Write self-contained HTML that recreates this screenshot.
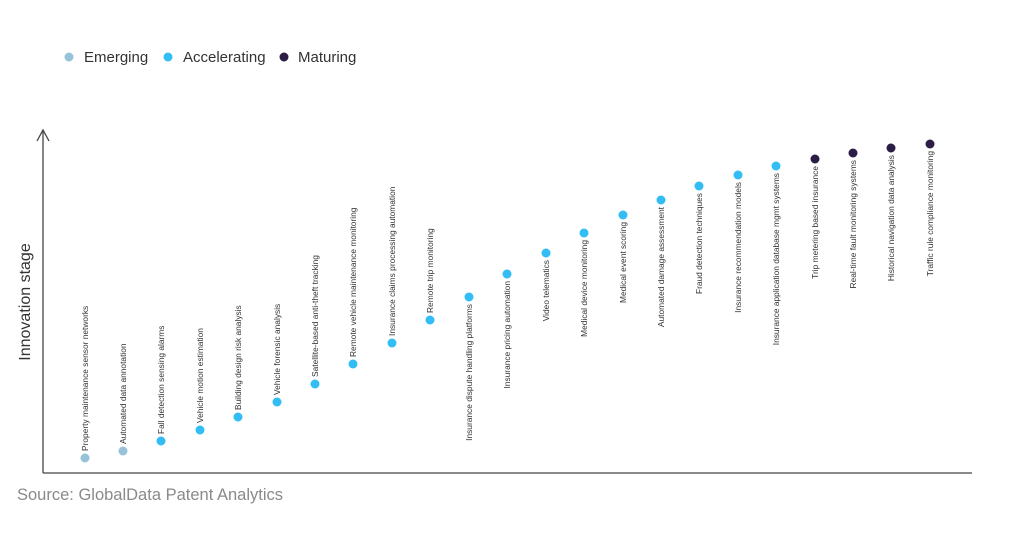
<!DOCTYPE html>
<html><head><meta charset="utf-8"><style>
body{margin:0;background:#fff;}
svg{display:block;font-family:"Liberation Sans",Arial,sans-serif;}
</style></head><body>
<svg width="1024" height="538" xmlns="http://www.w3.org/2000/svg">
<g font-size="15" fill="#333">
<circle cx="69" cy="57" r="4.5" fill="#96c3d8"/><text x="84" y="62">Emerging</text>
<circle cx="168" cy="57" r="4.5" fill="#33bdf5"/><text x="183" y="62">Accelerating</text>
<circle cx="284" cy="57" r="4.5" fill="#2b1d45"/><text x="298" y="62">Maturing</text>
</g>
<g stroke="#444" stroke-width="1.3" fill="none">
<line x1="43" y1="130" x2="43" y2="473"/>
<line x1="43" y1="473" x2="972" y2="473"/>
<polyline points="37,141 43,130 49,141"/>
</g>
<text transform="translate(30,302) rotate(-90)" text-anchor="middle" font-size="16" fill="#333">Innovation stage</text>
<text x="17" y="500" font-size="16.5" fill="#8a8a8a">Source: GlobalData Patent Analytics</text>
<g font-size="8.4" fill="#333">
<circle cx="85" cy="458" r="4.5" fill="#96c3d8"/><text transform="translate(88,451) rotate(-90)">Property maintenance sensor networks</text>
<circle cx="123" cy="451" r="4.5" fill="#96c3d8"/><text transform="translate(126,444) rotate(-90)">Automated data annotation</text>
<circle cx="161" cy="441" r="4.5" fill="#33bdf5"/><text transform="translate(164,434) rotate(-90)">Fall detection sensing alarms</text>
<circle cx="200" cy="430" r="4.5" fill="#33bdf5"/><text transform="translate(203,423) rotate(-90)">Vehicle motion estimation</text>
<circle cx="238" cy="417" r="4.5" fill="#33bdf5"/><text transform="translate(241,410) rotate(-90)">Building design risk analysis</text>
<circle cx="277" cy="402" r="4.5" fill="#33bdf5"/><text transform="translate(280,395) rotate(-90)">Vehicle forensic analysis</text>
<circle cx="315" cy="384" r="4.5" fill="#33bdf5"/><text transform="translate(318,377) rotate(-90)">Satellite-based anti-theft tracking</text>
<circle cx="353" cy="364" r="4.5" fill="#33bdf5"/><text transform="translate(356,357) rotate(-90)">Remote vehicle maintenance monitoring</text>
<circle cx="392" cy="343" r="4.5" fill="#33bdf5"/><text transform="translate(395,336) rotate(-90)">Insurance claims processing automation</text>
<circle cx="430" cy="320" r="4.5" fill="#33bdf5"/><text transform="translate(433,313) rotate(-90)">Remote trip monitoring</text>
<circle cx="469" cy="297" r="4.5" fill="#33bdf5"/><text transform="translate(472,304) rotate(-90)" text-anchor="end">Insurance dispute handling platforms</text>
<circle cx="507" cy="274" r="4.5" fill="#33bdf5"/><text transform="translate(510,281) rotate(-90)" text-anchor="end">Insurance pricing automation</text>
<circle cx="546" cy="253" r="4.5" fill="#33bdf5"/><text transform="translate(549,260) rotate(-90)" text-anchor="end">Video telematics</text>
<circle cx="584" cy="233" r="4.5" fill="#33bdf5"/><text transform="translate(587,240) rotate(-90)" text-anchor="end">Medical device monitoring</text>
<circle cx="623" cy="215" r="4.5" fill="#33bdf5"/><text transform="translate(626,222) rotate(-90)" text-anchor="end">Medical event scoring</text>
<circle cx="661" cy="200" r="4.5" fill="#33bdf5"/><text transform="translate(664,207) rotate(-90)" text-anchor="end">Automated damage assessment</text>
<circle cx="699" cy="186" r="4.5" fill="#33bdf5"/><text transform="translate(702,193) rotate(-90)" text-anchor="end">Fraud detection techniques</text>
<circle cx="738" cy="175" r="4.5" fill="#33bdf5"/><text transform="translate(741,182) rotate(-90)" text-anchor="end">Insurance recommendation models</text>
<circle cx="776" cy="166" r="4.5" fill="#33bdf5"/><text transform="translate(779,173) rotate(-90)" text-anchor="end">Insurance application database mgmt systems</text>
<circle cx="815" cy="159" r="4.5" fill="#2b1d45"/><text transform="translate(818,166) rotate(-90)" text-anchor="end">Trip metering based insurance</text>
<circle cx="853" cy="153" r="4.5" fill="#2b1d45"/><text transform="translate(856,160) rotate(-90)" text-anchor="end">Real-time fault monitoring systems</text>
<circle cx="891" cy="148" r="4.5" fill="#2b1d45"/><text transform="translate(894,155) rotate(-90)" text-anchor="end">Historical navigation data analysis</text>
<circle cx="930" cy="144" r="4.5" fill="#2b1d45"/><text transform="translate(933,151) rotate(-90)" text-anchor="end">Traffic rule compliance monitoring</text>
</g>
</svg>
</body></html>
